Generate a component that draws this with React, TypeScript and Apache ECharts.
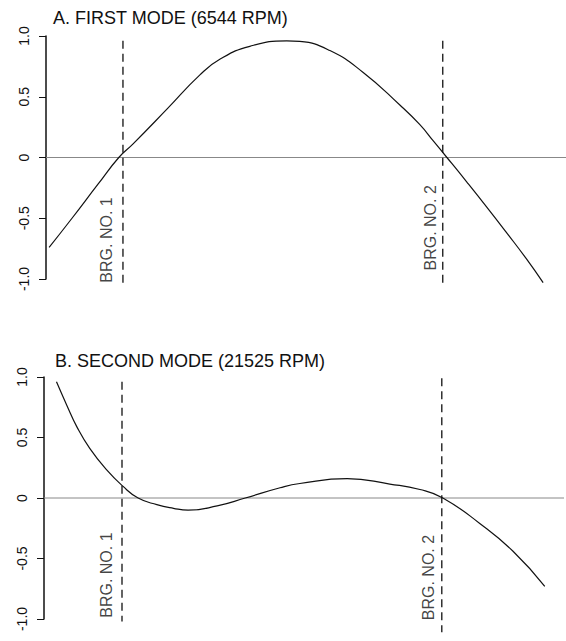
import React, { useEffect, useRef } from "react";
import * as echarts from "echarts";

// Shaft station (0-100, % of drawn span) and normalised mode-shape amplitude
const firstModeX = [0.6, 5.0, 10.0, 14.0, 16.7, 23.3, 29.6, 33.5, 39.2, 46.3, 48.8, 54.6, 61.0, 68.1, 71.9, 74.4, 77.1, 80.9, 84.8, 88.6, 92.4, 95.6];
const firstModeY = [-0.74, -0.5, -0.22, 0, 0.11, 0.4, 0.68, 0.81, 0.915, 0.96, 0.955, 0.88, 0.7, 0.43, 0.27, 0.14, 0, -0.2, -0.41, -0.62, -0.835, -1.03];

const secondModeX = [2.4, 4.4, 6.3, 8.8, 12.1, 15.1, 18.1, 21.7, 24.9, 27.7, 33.3, 38.7, 45.4, 49.2, 58.3, 66.5, 72.3, 76.7, 83.8, 90.2, 96.3];
const secondModeY = [0.96, 0.765, 0.59, 0.41, 0.23, 0.1, 0, -0.055, -0.085, -0.1, -0.065, 0, 0.085, 0.12, 0.16, 0.115, 0.07, 0, -0.21, -0.44, -0.73];

const titles = ["A. FIRST MODE (6544 RPM)", "B. SECOND MODE (21525 RPM)"];
const bearingNames = ["BRG. NO. 1", "BRG. NO. 2"];
const firstBearingX = [14.8, 76.3];
const secondBearingX = [15.0, 76.5];
// dashed bearing line extents [top, bottom] in amplitude units
const firstBearingSpan = [[0.96, -1.03], [0.96, -1.03]];
const secondBearingSpan = [[0.96, -1.02], [0.99, -1.11]];
// bottom end of each bearing label, in amplitude units
const firstLabelY = [-1.03, -0.93];
const secondLabelY = [-0.99, -1.01];
const yTicks = [-1, -0.5, 0, 0.5, 1];

const FONT = "Liberation Sans, Arial, Helvetica, sans-serif";

export default function App() {
  const ref = useRef<HTMLDivElement>(null);
  useEffect(() => {
    if (!ref.current) return;
    const chart = echarts.init(ref.current, undefined, { renderer: "svg" });

    const yAxisCommon = (gridIndex: number) => ({
      type: "value",
      gridIndex,
      min: yTicks[0],
      max: yTicks[yTicks.length - 1],
      interval: 0.5,
      axisLine: { show: true, lineStyle: { color: "#111", width: 1.5 } },
      axisTick: { show: true, length: 7, lineStyle: { color: "#111", width: 1 } },
      splitLine: { show: false },
      axisLabel: {
        rotate: 90,
        margin: 15,
        fontSize: 14,
        color: "#111",
        fontFamily: FONT,
        formatter: (v: number) => (v === 0 ? "0" : v.toFixed(1)),
      },
    });

    const xAxisCommon = (gridIndex: number) => ({
      type: "value",
      gridIndex,
      min: 0,
      max: 100,
      show: false,
    });

    const curve = (xs: number[], ys: number[], idx: number) => ({
      type: "line",
      xAxisIndex: idx,
      yAxisIndex: idx,
      data: xs.map((x, i) => [x, ys[i]]),
      smooth: 0.5,
      showSymbol: false,
      symbol: "none",
      clip: false,
      lineStyle: { color: "#111", width: 1.2 },
      z: 5,
    });

    const zeroLine = (idx: number) => ({
      type: "line",
      xAxisIndex: idx,
      yAxisIndex: idx,
      data: [[0, 0], [100, 0]],
      showSymbol: false,
      symbol: "none",
      lineStyle: { color: "#888", width: 1 },
      z: 3,
    });

    const bearingLines = (xs: number[], spans: number[][], idx: number) =>
      xs.map((x, i) => ({
        type: "line",
        xAxisIndex: idx,
        yAxisIndex: idx,
        data: [[x, spans[i][0]], [x, spans[i][1]]],
        showSymbol: false,
        symbol: "none",
        clip: false,
        lineStyle: { color: "#111", width: 1.3, type: [8, 5] },
        z: 4,
      }));

    const bearingLabels = (xs: number[], ys: number[], idx: number, offsets: number[]) =>
      xs.map((x, i) => ({
        type: "scatter",
        xAxisIndex: idx,
        yAxisIndex: idx,
        data: [[x, ys[i]]],
        symbolSize: 0,
        clip: false,
        silent: true,
        label: {
          show: true,
          formatter: bearingNames[i],
          position: [offsets[i], 0],
          align: "left",
          verticalAlign: "middle",
          rotate: 90,
          fontSize: 16,
          color: "#111",
          fontFamily: FONT,
        },
        z: 6,
      }));

    chart.setOption({
      animation: false,
      backgroundColor: "#fff",
      title: [
        {
          text: titles[0],
          left: 53,
          top: 9,
          padding: 0,
          textStyle: { fontSize: 18, fontWeight: "normal", color: "#111", fontFamily: FONT },
        },
        {
          text: titles[1],
          left: 55,
          top: 352,
          padding: 0,
          textStyle: { fontSize: 18, fontWeight: "normal", color: "#111", fontFamily: FONT },
        },
      ],
      grid: [
        { left: 46, width: 520, top: 36, height: 243 },
        { left: 44, width: 520, top: 377, height: 242 },
      ],
      xAxis: [xAxisCommon(0), xAxisCommon(1)],
      yAxis: [yAxisCommon(0), yAxisCommon(1)],
      series: [
        zeroLine(0),
        zeroLine(1),
        curve(firstModeX, firstModeY, 0),
        curve(secondModeX, secondModeY, 1),
        ...bearingLines(firstBearingX, firstBearingSpan, 0),
        ...bearingLines(secondBearingX, secondBearingSpan, 1),
        ...bearingLabels(firstBearingX, firstLabelY, 0, [-16.5, -12]),
        ...bearingLabels(secondBearingX, secondLabelY, 1, [-15.5, -13.5]),
      ],
    });
    return () => chart.dispose();
  }, []);
  return (
    <div
      ref={ref}
      style={{ position: "absolute", left: 0, top: 0, width: 566, height: 641 }}
    />
  );
}
